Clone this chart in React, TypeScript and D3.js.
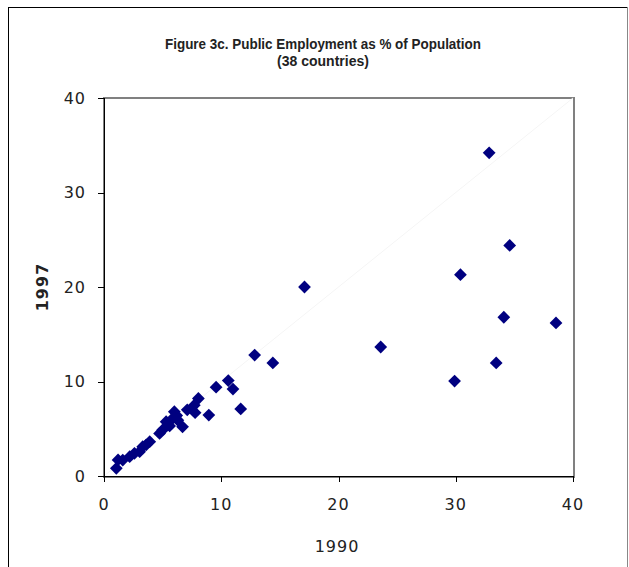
import React from "react";
import * as d3 from "d3";

const titleLines = ["Figure 3c. Public Employment as % of Population", "(38 countries)"];
const xLabel = "1990";
const yLabel = "1997";
const xTicks = [0, 10, 20, 30, 40];
const yTicks = [0, 10, 20, 30, 40];

const x1990 = [
  32.85, 34.6, 30.4, 17.1, 34.1, 38.55, 23.6, 12.85, 14.4, 33.45,
  29.9, 10.6, 11.0, 9.56, 11.66, 8.94, 8.05, 7.7, 7.1, 7.77,
  6.0, 5.87, 6.2, 5.3, 6.7, 5.0, 4.74, 5.6, 3.9, 3.6,
  3.3, 3.04, 2.6, 2.19, 1.6, 1.2, 1.05, 6.3,
];
const y1997 = [
  34.2, 24.4, 21.3, 20.0, 16.8, 16.2, 13.65, 12.8, 11.96, 11.96,
  10.05, 10.1, 9.2, 9.4, 7.1, 6.45, 8.2, 7.5, 7.0, 6.7,
  6.8, 6.1, 6.4, 5.75, 5.2, 4.87, 4.5, 5.3, 3.63, 3.3,
  3.1, 2.57, 2.4, 2.04, 1.69, 1.7, 0.81, 5.9,
];

const W = 629;
const H = 567;
const plot = { left: 104, right: 574, top: 98, bottom: 476 };

export default function App() {
  const x = d3.scaleLinear().domain([0, 40]).range([plot.left, plot.right - 1]);
  const y = d3.scaleLinear().domain([0, 40]).range([plot.bottom, plot.top]);
  const diamond = d3.symbol().type(d3.symbolDiamond2).size(104)();
  const navy = "#000080";
  const tickFont = "'DejaVu Sans', Verdana, sans-serif";

  return (
    <svg
      width={W}
      height={H}
      style={{ position: "absolute", left: 0, top: 0, background: "#fff" }}
    >
      {/* outer frame */}
      <line x1={8.5} y1={7} x2={8.5} y2={H} stroke="#000" strokeWidth={1} />
      <line x1={8} y1={7.5} x2={628} y2={7.5} stroke="#000" strokeWidth={1} />
      <line x1={627.5} y1={7} x2={627.5} y2={H} stroke="#888" strokeWidth={1} />

      {/* title */}
      <text
        x={323}
        textAnchor="middle"
        fontFamily="'Liberation Sans Narrow', 'Arial Narrow', 'Liberation Sans', sans-serif"
        fontWeight="bold"
        fontSize={14}
        fill="#222"
      >
        <tspan x={323} y={49} textLength={316} lengthAdjust="spacingAndGlyphs">{titleLines[0]}</tspan>
        <tspan x={323} y={66}>{titleLines[1]}</tspan>
      </text>

      {/* plot area border (gray) */}
      <rect
        x={plot.left}
        y={plot.top}
        width={plot.right - plot.left}
        height={plot.bottom - plot.top + 1}
        fill="#fff"
        stroke="#808080"
        strokeWidth={2}
      />

      {/* faint diagonal */}
      <line
        x1={x(0)}
        y1={y(0)}
        x2={x(40)}
        y2={y(40)}
        stroke="#f5f5f5"
        strokeWidth={1}
      />

      {/* axes */}
      <line x1={plot.left + 0.5} y1={plot.top} x2={plot.left + 0.5} y2={plot.bottom + 6} stroke="#000" />
      <line x1={plot.left - 6} y1={plot.bottom + 0.5} x2={plot.right} y2={plot.bottom + 0.5} stroke="#000" />

      {yTicks.map((t) => (
        <g key={"y" + t}>
          <line
            x1={plot.left - 6}
            x2={plot.left}
            y1={Math.round(y(t)) + 0.5}
            y2={Math.round(y(t)) + 0.5}
            stroke="#000"
          />
          <text
            x={86}
            y={y(t)}
            dy="0.36em"
            textAnchor="end"
            fontFamily={tickFont}
            fontSize={16}
            letterSpacing={1}
            fill="#222"
          >
            {t}
          </text>
        </g>
      ))}

      {xTicks.map((t) => (
        <g key={"x" + t}>
          <line
            x1={Math.round(x(t)) + 0.5}
            x2={Math.round(x(t)) + 0.5}
            y1={plot.bottom}
            y2={plot.bottom + 6}
            stroke="#000"
          />
          <text
            x={x(t)}
            y={510}
            textAnchor="middle"
            fontFamily={tickFont}
            fontSize={16}
            letterSpacing={1}
            fill="#222"
          >
            {t}
          </text>
        </g>
      ))}

      {/* axis titles */}
      <text
        x={337}
        y={552}
        textAnchor="middle"
        fontFamily={tickFont}
        fontSize={16}
        letterSpacing={1}
        fill="#222"
      >
        {xLabel}
      </text>
      <text
        transform={`translate(48,287) rotate(-90)`}
        textAnchor="middle"
        fontFamily={tickFont}
        fontWeight="bold"
        fontSize={16}
        letterSpacing={1}
        fill="#222"
      >
        {yLabel}
      </text>

      {/* points */}
      {x1990.map((v, i) => (
        <path
          key={i}
          d={diamond}
          transform={`translate(${x(v)},${y(y1997[i])})`}
          fill={navy}
        />
      ))}
    </svg>
  );
}
